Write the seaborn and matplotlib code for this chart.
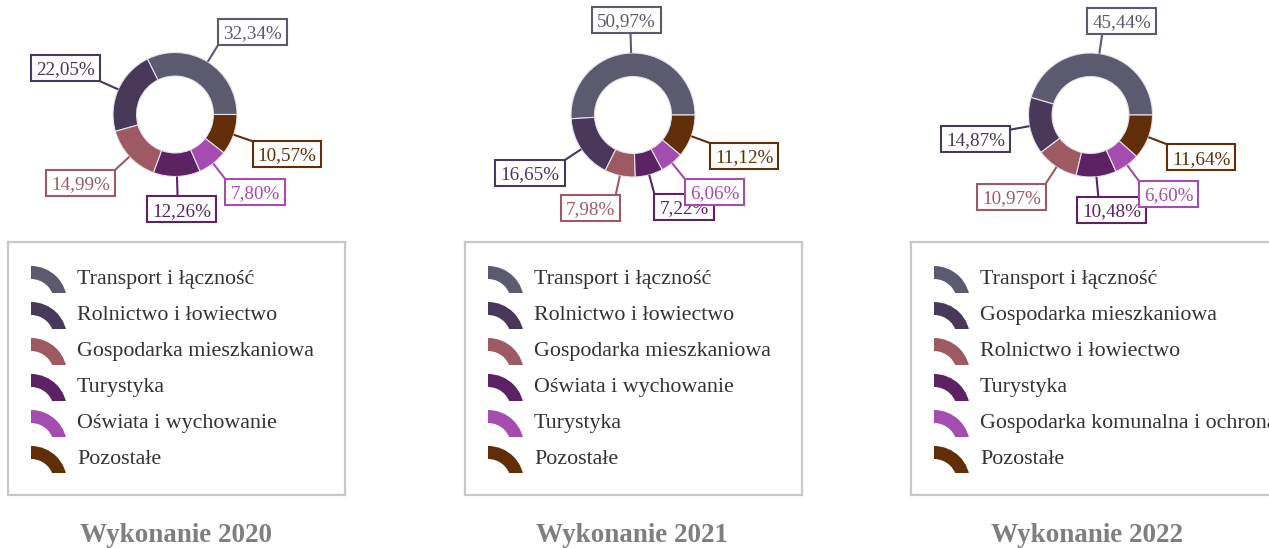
import numpy as np
import matplotlib
matplotlib.use("Agg")
import matplotlib.pyplot as plt
from matplotlib.patches import Wedge, Rectangle
import seaborn as sns

# ---- data ---------------------------------------------------------------
years = ["2020", "2021", "2022"]

categories_2020 = ["Transport i łączność", "Rolnictwo i łowiectwo",
                   "Gospodarka mieszkaniowa", "Turystyka",
                   "Oświata i wychowanie", "Pozostałe"]
shares_2020 = [32.34, 22.05, 14.99, 12.26, 7.80, 10.57]

categories_2021 = ["Transport i łączność", "Rolnictwo i łowiectwo",
                   "Gospodarka mieszkaniowa", "Oświata i wychowanie",
                   "Turystyka", "Pozostałe"]
shares_2021 = [50.97, 16.65, 7.98, 7.22, 6.06, 11.12]

categories_2022 = ["Transport i łączność", "Gospodarka mieszkaniowa",
                   "Rolnictwo i łowiectwo", "Turystyka",
                   "Gospodarka komunalna i ochrona środowiska", "Pozostałe"]
shares_2022 = [45.44, 14.87, 10.97, 10.48, 6.60, 11.64]

slice_colors = ["#5c5a6e", "#483859", "#9e5a63", "#5c2264", "#a44cb0", "#612e08"]

# ---- style ----------------------------------------------------------------
sns.set_theme(style="white")
plt.rcParams["font.family"] = ["Liberation Serif", "DejaVu Serif"]
palette = sns.color_palette(slice_colors)

W, H = 1269, 548
fig = plt.figure(figsize=(W / 100, H / 100), dpi=100)
renderer = fig.canvas.get_renderer()


def add_px_axes(left, top, width, height):
    """Axes placed with pixel coordinates measured from the top-left corner."""
    return fig.add_axes([left / W, 1 - (top + height) / H, width / W, height / H])


R = 62.0            # outer donut radius in pixels
HOLE = 0.38         # ring thickness relative to the radius
LEADER = 82.0 / R   # radial distance where the leader line ends
LABEL_FS = 13.8
BOX_H = 26.0

panels = [
    (categories_2020, shares_2020, 175.0, 114.5, 337),
    (categories_2021, shares_2021, 633.0, 115.0, 337),
    (categories_2022, shares_2022, 1090.5, 115.0, 440),
]
legend_lefts = [8, 465, 911]
title_centers = [176, 632.5, 1087]

for p, (cats, vals, cx, cy, leg_w) in enumerate(panels):
    # ---- donut -------------------------------------------------------------
    half_w, top, height = 170.0, 0.0, 240.0
    ax = add_px_axes(cx - half_w, top, 2 * half_w, height)
    wedges, _ = ax.pie(vals, colors=palette, startangle=0, counterclock=True,
                       radius=1.0,
                       wedgeprops=dict(width=HOLE, edgecolor="#e6e2ea", linewidth=0.8))
    ax.set_xlim(-half_w / R, half_w / R)
    ax.set_ylim((cy - (top + height)) / R, (cy - top) / R)
    ax.set_aspect("auto")
    ax.axis("off")

    total = float(np.sum(vals))
    start = 0.0
    for i, v in enumerate(vals):
        span = 360.0 * v / total
        mid = np.deg2rad(start + span / 2)
        start += span
        c, s = np.cos(mid), np.sin(mid)
        col = palette[i]
        label = f"{v:.2f}%".replace(".", ",")

        # leader line from the ring edge outward
        ax.plot([c, c * LEADER], [s, s * LEADER], color=col, lw=1.5,
                solid_capstyle="butt", zorder=2)

        # measure the label so the box can hang off the line end
        t = ax.text(0, 0, label, fontsize=LABEL_FS, color=col,
                    ha="center", va="baseline", zorder=4 + 2 * i)
        tw = t.get_window_extent(renderer=renderer).width
        bw = tw + 10.0
        fx = np.clip(4 * c, -1, 1)
        fy = np.clip(4 * s, -1, 1)
        bx = c * LEADER + fx * bw / 2 / R
        by = s * LEADER + fy * BOX_H / 2 / R
        box = Rectangle((bx - bw / 2 / R, by - BOX_H / 2 / R), bw / R, BOX_H / R,
                        facecolor="white", edgecolor=col, lw=1.5,
                        zorder=3 + 2 * i)
        ax.add_patch(box)
        t.set_position((bx, by - 6.3 / R))

    # ---- legend -------------------------------------------------------------
    lx, ly, lh = legend_lefts[p], 242, 253
    lax = add_px_axes(lx, ly, leg_w, lh)
    lax.set_xlim(0, leg_w)
    lax.set_ylim(lh, 0)
    lax.set_xticks([])
    lax.set_yticks([])
    lax.set_facecolor("none")
    for sp in lax.spines.values():
        sp.set_color("#c8c8c8")
        sp.set_linewidth(1.6)
    for i, name in enumerate(cats):
        dy = 36 * i
        arc = Wedge((23, 60 + dy), 36, 270, 360, width=13,
                    facecolor=palette[i], edgecolor="none")
        lax.add_patch(arc)
        clip = Rectangle((23, 24 + dy), 37, 27, transform=lax.transData)
        arc.set_clip_path(clip)
        lax.text(69, 42 + dy, name, fontsize=15.8, color="#333333",
                 ha="left", va="baseline")

    # ---- caption --------------------------------------------------------------
    fig.text(title_centers[p] / W, 1 - 542 / H, f"Wykonanie {years[p]}",
             ha="center", va="baseline", fontsize=19.5, fontweight="bold",
             color="#7f7f7f")

fig.savefig("out.png", dpi=100)
